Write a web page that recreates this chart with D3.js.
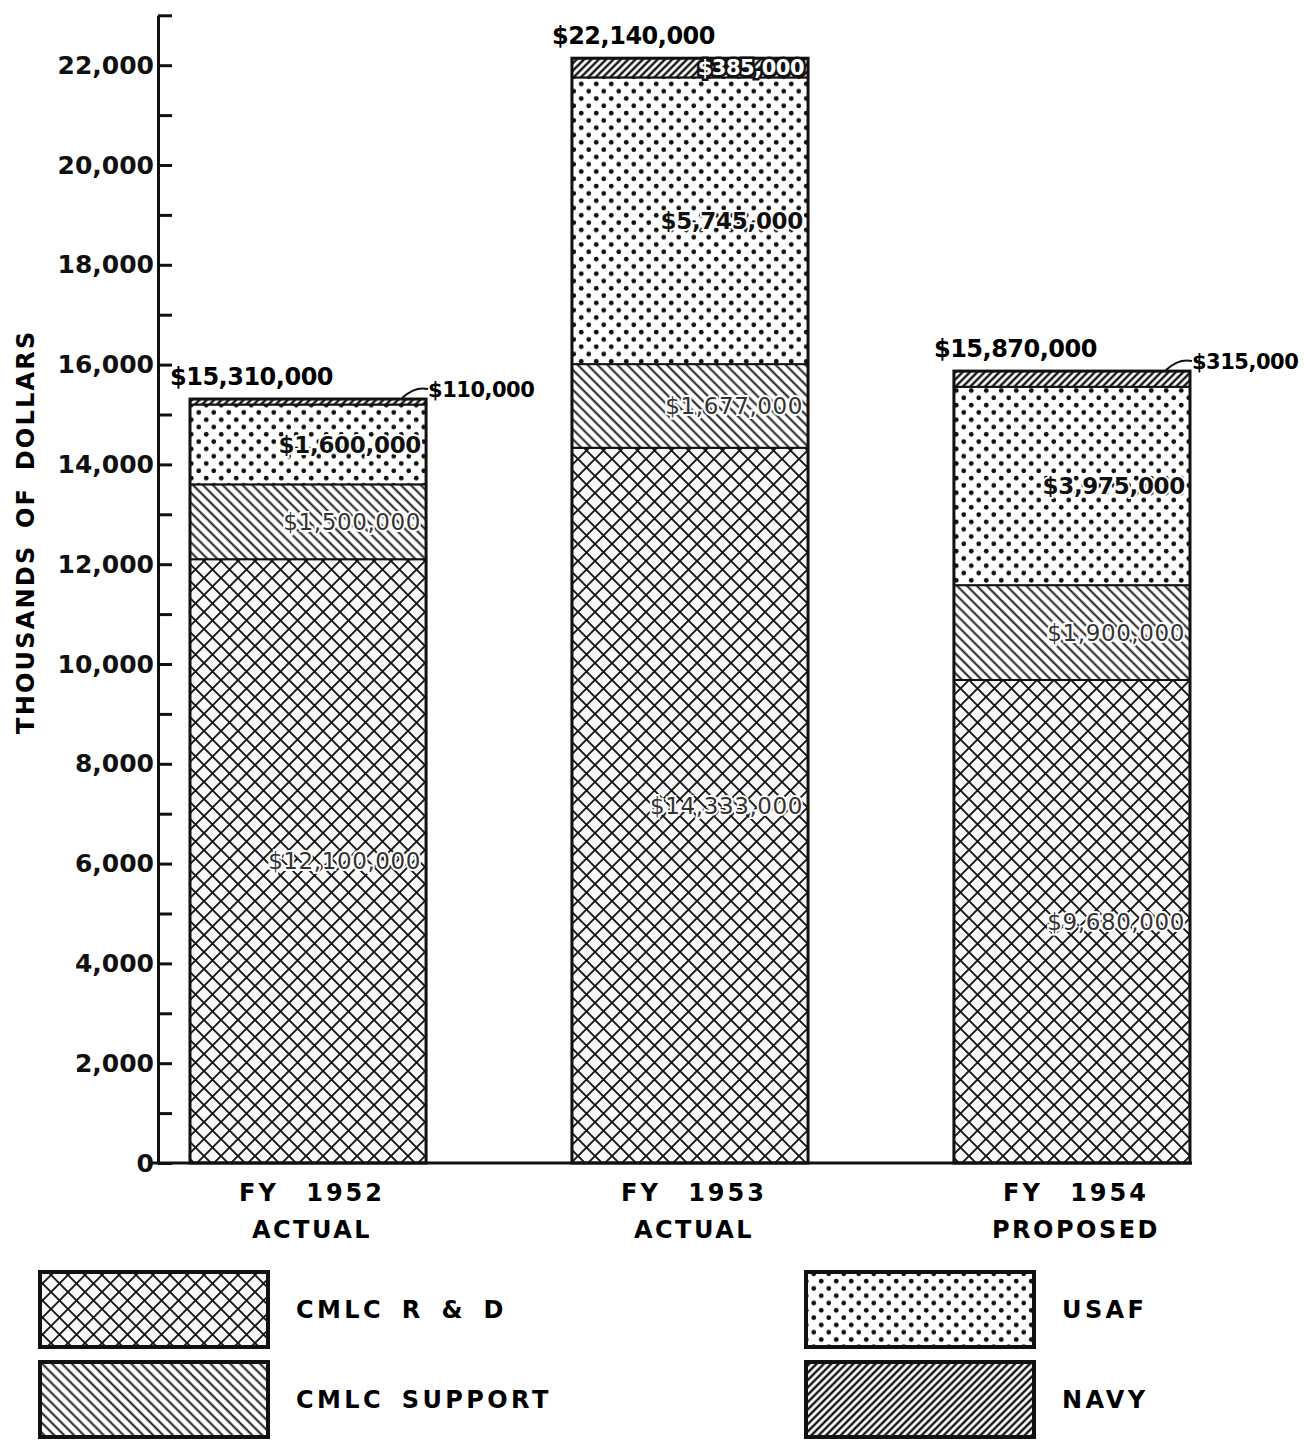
<!DOCTYPE html>
<html><head><meta charset="utf-8">
<script src="https://cdn.jsdelivr.net/npm/d3@7"></script>
<style>
body{margin:0;background:#fff}
svg{display:block}
text{font-family:"DejaVu Sans",sans-serif;}
</style>
</head><body>
<svg id="c" width="1304" height="1443"></svg>
<script>
// ---- data (thousands of dollars) ----
const categories = ["FY 1952", "FY 1953", "FY 1954"];
const subLabels = ["ACTUAL", "ACTUAL", "PROPOSED"];
const seriesKeys = ["rd", "support", "usaf", "navy"];
const seriesNames = ["CMLC R & D", "CMLC SUPPORT", "USAF", "NAVY"];
const rdValues = [12100, 14333, 9680];
const supportValues = [1500, 1677, 1900];
const usafValues = [1600, 5745, 3975];
const navyValues = [110, 385, 315];
const totalValues = [15310, 22140, 15870];
const yTicks = d3.range(0, 23001, 1000);
const yLabelTicks = d3.range(0, 22001, 2000);
const yTitle = "THOUSANDS OF DOLLARS";

const table = categories.map((c, i) => ({
  cat: c, sub: subLabels[i], rd: rdValues[i], support: supportValues[i],
  usaf: usafValues[i], navy: navyValues[i], total: totalValues[i]
}));

const svg = d3.select("#c");
const defs = svg.append("defs");

// ---- patterns ----
function linePattern(id, spacing, width, angle, bg) {
  const p = defs.append("pattern").attr("id", id).attr("patternUnits", "userSpaceOnUse")
    .attr("width", spacing).attr("height", spacing)
    .attr("patternTransform", `rotate(${angle})`);
  p.append("rect").attr("width", spacing).attr("height", spacing).attr("fill", bg);
  p.append("line").attr("x1", spacing / 2).attr("x2", spacing / 2).attr("y1", 0).attr("y2", spacing)
    .attr("stroke", "#111").attr("stroke-width", width);
}
// cross-hatch
(function () {
  const s = 17;
  const p = defs.append("pattern").attr("id", "p-rd").attr("patternUnits", "userSpaceOnUse")
    .attr("width", s).attr("height", s);
  p.append("rect").attr("width", s).attr("height", s).attr("fill", "#f8f8f8");
  p.append("path").attr("d", `M0,0L${s},${s}M${s},0L0,${s}`)
    .attr("stroke", "#151515").attr("stroke-width", 1.9).attr("fill", "none");
})();
linePattern("p-sup", 7, 1.9, -45, "#fff");
linePattern("p-navy", 5.2, 2.4, 45, "#fff");
(function () {
  const w = 15, h = 14.6;
  const p = defs.append("pattern").attr("id", "p-usaf").attr("patternUnits", "userSpaceOnUse")
    .attr("width", w).attr("height", h);
  p.append("rect").attr("width", w).attr("height", h).attr("fill", "#fff");
  p.append("circle").attr("cx", w / 4).attr("cy", h / 4).attr("r", 2.4).attr("fill", "#111");
  p.append("circle").attr("cx", 3 * w / 4).attr("cy", 3 * h / 4).attr("r", 2.4).attr("fill", "#111");
})();
const fills = { rd: "url(#p-rd)", support: "url(#p-sup)", usaf: "url(#p-usaf)", navy: "url(#p-navy)" };

// ---- scales ----
const y = d3.scaleLinear().domain([0, 23000]).range([1163, 15.3]);
const x = d3.scaleBand().domain(categories).range([190, 1190]).paddingInner(0.382).paddingOuter(0);

// ---- stack ----
const stacked = d3.stack().keys(seriesKeys)(table);

const barsG = svg.append("g");
stacked.forEach(layer => {
  barsG.selectAll(null).data(layer).join("rect")
    .attr("x", d => x(d.data.cat))
    .attr("width", x.bandwidth())
    .attr("y", d => y(d[1]))
    .attr("height", d => y(d[0]) - y(d[1]))
    .attr("fill", fills[layer.key])
    .attr("stroke", "#111").attr("stroke-width", 2);
});
// bar outlines
barsG.selectAll(null).data(table).join("rect")
  .attr("x", d => x(d.cat)).attr("width", x.bandwidth())
  .attr("y", d => y(d.total)).attr("height", d => y(0) - y(d.total))
  .attr("fill", "none").attr("stroke", "#111").attr("stroke-width", 3);

// ---- axes ----
const yAxisG = svg.append("g").attr("transform", "translate(158,0)");
yAxisG.call(d3.axisRight(y).tickValues(yTicks).tickSize(14).tickSizeOuter(0).tickFormat(""));
yAxisG.selectAll("path,line").attr("stroke", "#111").attr("stroke-width", 3);

const yLabG = svg.append("g").attr("transform", "translate(156,0)");
yLabG.call(d3.axisLeft(y).tickValues(yLabelTicks).tickSize(0).tickPadding(2).tickFormat(d3.format(",")));
yLabG.select(".domain").remove();
yLabG.selectAll("text").attr("font-size", 25).attr("font-weight", "bold").attr("fill", "#111")
  .attr("font-family", "DejaVu Sans").attr("letter-spacing", 0);

// baseline
svg.append("line").attr("x1", 150).attr("x2", x(categories[2]) + x.bandwidth() + 2)
  .attr("y1", y(0)).attr("y2", y(0)).attr("stroke", "#111").attr("stroke-width", 3);

// category labels
const catG = svg.append("g");
catG.selectAll(null).data(table).join("text")
  .attr("x", d => x(d.cat) + x.bandwidth() / 2 + 4).attr("y", y(0) + 38)
  .attr("text-anchor", "middle").attr("font-size", 24).attr("font-weight", "bold")
  .attr("letter-spacing", 3).attr("word-spacing", 16).text(d => d.cat);
catG.selectAll(null).data(table).join("text")
  .attr("x", d => x(d.cat) + x.bandwidth() / 2 + 4).attr("y", y(0) + 75)
  .attr("text-anchor", "middle").attr("font-size", 24).attr("font-weight", "bold")
  .attr("letter-spacing", 2.5).text(d => d.sub);

// y title
svg.append("text").attr("transform", `translate(34,${y(12650)}) rotate(-90)`)
  .attr("text-anchor", "middle").attr("font-size", 24).attr("font-weight", "bold")
  .attr("letter-spacing", 2.2).attr("word-spacing", 6).text(yTitle);

// ---- value labels ----
const money = v => "$" + d3.format(",")(v * 1000);
const labG = svg.append("g");
[["rd", 0], ["support", 1], ["usaf", 2]].forEach(([key, li]) => {
  const bold = key === "usaf";
  labG.selectAll(null).data(stacked[li]).join("text")
    .attr("x", d => x(d.data.cat) + x.bandwidth() - 5)
    .attr("y", d => y((d[0] + d[1]) / 2))
    .attr("dy", "0.36em").attr("text-anchor", "end")
    .attr("font-size", bold ? 23 : 23)
    .attr("font-weight", bold ? "bold" : "normal")
    .attr("letter-spacing", bold ? -0.3 : 0.6)
    .attr("fill", bold ? "#111" : "#333")
    .attr("stroke", "#fff").attr("stroke-width", 4).attr("paint-order", "stroke")
    .text(d => money(d.data[key]));
});
// totals
labG.selectAll(null).data(table).join("text")
  .attr("x", d => x(d.cat) - 20).attr("y", d => y(d.total) - 14)
  .attr("font-size", 24).attr("font-weight", "bold").attr("letter-spacing", -0.5)
  .text(d => money(d.total));

// navy labels: inside when the segment is tall enough, outside with a leader otherwise
const navyLayer = stacked[3];
navyLayer.forEach(d => {
  const right = x(d.data.cat) + x.bandwidth();
  const ym = y((d[0] + d[1]) / 2);
  if (y(d[0]) - y(d[1]) > 17) {
    labG.append("text").attr("x", right - 4).attr("y", ym).attr("dy", "0.36em")
      .attr("text-anchor", "end").attr("font-size", 21).attr("font-weight", "bold")
      .attr("letter-spacing", -0.5).attr("fill", "#fff")
      .attr("stroke", "#111").attr("stroke-width", 5).attr("paint-order", "stroke")
      .text(money(d.data.navy));
  } else {
    const sx = right - 24, sy = y(d[1]) - 1;
    const ex = right + 2, ey = y(d[1]) - 10;
    const p = d3.path();
    p.moveTo(sx, sy);
    p.quadraticCurveTo((sx + ex) / 2, sy - 12, ex, ey);
    labG.append("path").attr("d", p.toString()).attr("fill", "none")
      .attr("stroke", "#111").attr("stroke-width", 2);
    labG.append("text").attr("x", ex).attr("y", ey).attr("dy", "0.36em")
      .attr("font-size", 21).attr("font-weight", "bold").attr("letter-spacing", -0.5)
      .text(money(d.data.navy));
  }
});

// ---- legend ----
const legendPos = [
  { key: "rd", x: 40, y: 1272 },
  { key: "support", x: 40, y: 1362 },
  { key: "usaf", x: 806, y: 1272 },
  { key: "navy", x: 806, y: 1362 }
];
const legG = svg.append("g");
legendPos.forEach(lp => {
  legG.append("rect").attr("x", lp.x).attr("y", lp.y).attr("width", 228).attr("height", 75)
    .attr("fill", fills[lp.key]).attr("stroke", "#111").attr("stroke-width", 4);
  legG.append("text").attr("x", lp.x + 256).attr("y", lp.y + 46)
    .attr("font-size", 24).attr("font-weight", "bold").attr("letter-spacing", 3.4)
    .attr("word-spacing", 6).text(seriesNames[seriesKeys.indexOf(lp.key)]);
});
</script>
</body></html>
